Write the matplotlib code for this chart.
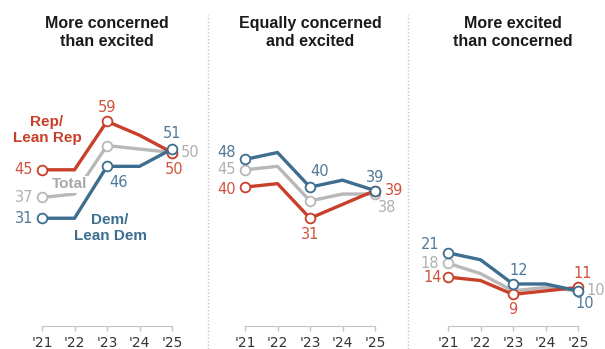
import matplotlib
matplotlib.use("Agg")
import matplotlib.pyplot as plt
from matplotlib.lines import Line2D

# data
years = [2021, 2022, 2023, 2024, 2025]
tick_labels = ["'21", "'22", "'23", "'24", "'25"]
panel_titles = ["More concerned\nthan excited",
                "Equally concerned\nand excited",
                "More excited\nthan concerned"]

rep_vals = [[45, 45, 59, 55, 50], [40, 41, 31, 35, 39], [14, 13, 9, 10, 11]]
dem_vals = [[31, 31, 46, 46, 51], [48, 50, 40, 42, 39], [21, 19, 12, 12, 10]]
total_vals = [[37, 38, 52, 51, 50], [45, 46, 36, 38, 38], [18, 15, 10, 11, 10]]

colors = {"total": "#b8b8b8", "rep": "#c8402a", "dem": "#3d6e8f"}
text_colors = {"total": "#b0b0b0", "rep": "#d0533e", "dem": "#50799a"}

# which points get a number: (series, index, dx px, dy px, ha)
value_labels = [
    [("rep", 0, -9, 0, "right"), ("rep", 2, 0, 14, "center"), ("rep", 4, 2, -17, "center"),
     ("dem", 0, -9, 0, "right"), ("dem", 2, 12, -16, "center"), ("dem", 4, 0, 16, "center"),
     ("total", 0, -9, 0, "right"), ("total", 4, 9, 0, "left")],
    [("dem", 0, -9, 7, "right"), ("total", 0, -9, 0, "right"), ("rep", 0, -9, -2, "right"),
     ("dem", 2, 10, 16, "center"), ("rep", 2, 0, -16, "center"),
     ("dem", 4, 0, 13, "center"), ("rep", 4, 10, 0, "left"), ("total", 4, 12, -13, "center")],
    [("dem", 0, -9, 8, "right"), ("total", 0, -9, 0, "right"), ("rep", 0, -6, 0, "right"),
     ("dem", 2, 6, 13, "center"), ("rep", 2, 0, -15, "center"),
     ("rep", 4, 5, 14, "center"), ("total", 4, 8, 0, "left"), ("dem", 4, 7, -13, "center")],
]

W, H = 605, 349
panel_x0 = [42, 245, 448]   # pixel x of '21 in each panel

fig = plt.figure(figsize=(W / 100, H / 100), dpi=100)

series = {"total": total_vals, "rep": rep_vals, "dem": dem_vals}
zorders = {"total": 2, "rep": 3, "dem": 4}

axes = []
for i in range(3):
    left = panel_x0[i] - 16.25
    ax = fig.add_axes([left / W, 23.5 / H, 162.5 / W, 311.4 / H])
    ax.set_xlim(2020.5, 2025.5)
    ax.set_ylim(0, 90)
    ax.patch.set_alpha(0)
    for key in ["total", "rep", "dem"]:
        ax.plot(years, series[key][i], color=colors[key], lw=2.4,
                marker="o", markevery=[0, 2, 4], markersize=7,
                markerfacecolor="white", markeredgecolor=colors[key],
                markeredgewidth=1.3, zorder=zorders[key], clip_on=False,
                solid_joinstyle="miter")
    for key, idx, dx, dy, ha in value_labels[i]:
        ax.annotate(str(series[key][i][idx]), (years[idx], series[key][i][idx]),
                    xytext=(dx, dy), textcoords="offset pixels",
                    ha=ha, va="center", fontsize=10.5,
                    color=text_colors[key], zorder=6)
    for s in ["top", "left", "right"]:
        ax.spines[s].set_visible(False)
    ax.spines["bottom"].set_bounds(2021, 2025)
    ax.spines["bottom"].set_color("#c4c4c4")
    ax.set_yticks([])
    ax.set_xticks(years)
    ax.set_xticklabels(tick_labels)
    ax.tick_params(axis="x", length=3.6, width=1, color="#c4c4c4",
                   labelcolor="#333333", labelsize=10, pad=4)
    fig.text((panel_x0[i] + 65) / W, 1 - 32.5 / H, panel_titles[i],
             ha="center", va="center", fontsize=11.5, fontweight="bold",
             family="Liberation Sans", color="#1a1a1a", linespacing=1.3)
    axes.append(ax)

# series names in the first panel
ax0 = axes[0]
ax0.annotate("Rep/\nLean Rep", (years[0], rep_vals[0][0]), xytext=(5, 40),
             textcoords="offset pixels", ha="center", va="center",
             fontsize=11, fontweight="bold", family="Liberation Sans",
             color=colors["rep"], linespacing=1.15)
ax0.annotate("Total", (years[0], total_vals[0][0]), xytext=(28, 13),
             textcoords="offset pixels", ha="center", va="center",
             fontsize=11, fontweight="bold", family="Liberation Sans",
             color="#a8a8a8", zorder=2.5,
             bbox=dict(boxstyle="square,pad=0.1", fc="white", ec="none"))
ax0.annotate("Dem/\nLean Dem", (years[0], dem_vals[0][0]), xytext=(68, -10),
             textcoords="offset pixels", ha="center", va="center",
             fontsize=11, fontweight="bold", family="Liberation Sans",
             color=colors["dem"], linespacing=1.15)

# dotted dividers
for xp in [208, 408]:
    fig.add_artist(Line2D([xp / W, xp / W], [0, 1 - 15 / H], color="#c4c4c4",
                          lw=1, linestyle=(0, (1, 1.5))))

fig.savefig("out.png", dpi=100)
